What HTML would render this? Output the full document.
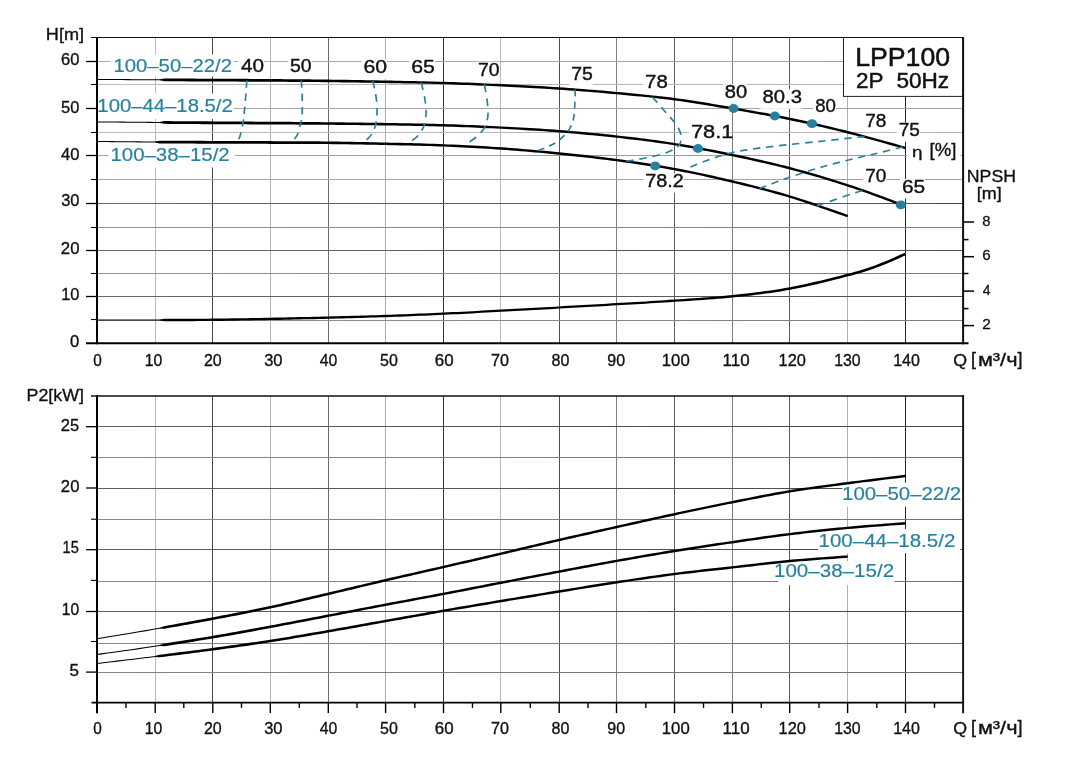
<!DOCTYPE html>
<html lang="ru">
<head>
<meta charset="utf-8">
<title>LPP100 2P 50Hz</title>
<style>
html,body{margin:0;padding:0;background:#fff;}
body{width:1072px;height:767px;overflow:hidden;}
svg{display:block;}
text{font-family:"Liberation Sans",sans-serif;white-space:pre;stroke-linejoin:round;}
</style>
</head>
<body>
<svg width="1072" height="767" viewBox="0 0 1072 767">
<rect width="1072" height="767" fill="#ffffff"/>

<g id="top-grid" fill="none">
<line x1="155.50" y1="37.5" x2="155.50" y2="343.2" stroke="#bababa" stroke-width="1.0"/>
<line x1="212.50" y1="37.5" x2="212.50" y2="343.2" stroke="#464646" stroke-width="1.0"/>
<line x1="270.50" y1="37.5" x2="270.50" y2="343.2" stroke="#b4b4b4" stroke-width="1.0"/>
<line x1="328.50" y1="37.5" x2="328.50" y2="343.2" stroke="#6c6c6c" stroke-width="1.0"/>
<line x1="385.50" y1="37.5" x2="385.50" y2="343.2" stroke="#acacac" stroke-width="1.0"/>
<line x1="443.50" y1="37.5" x2="443.50" y2="343.2" stroke="#323232" stroke-width="1.0"/>
<line x1="500.50" y1="37.5" x2="500.50" y2="343.2" stroke="#bababa" stroke-width="1.0"/>
<line x1="559.50" y1="37.5" x2="559.50" y2="343.2" stroke="#505050" stroke-width="1.0"/>
<line x1="616.50" y1="37.5" x2="616.50" y2="343.2" stroke="#808080" stroke-width="1.0"/>
<line x1="674.50" y1="37.5" x2="674.50" y2="343.2" stroke="#606060" stroke-width="1.0"/>
<line x1="732.50" y1="37.5" x2="732.50" y2="343.2" stroke="#7c7c7c" stroke-width="1.0"/>
<line x1="789.50" y1="37.5" x2="789.50" y2="343.2" stroke="#5a5a5a" stroke-width="1.0"/>
<line x1="847.50" y1="37.5" x2="847.50" y2="343.2" stroke="#b0b0b0" stroke-width="1.0"/>
<line x1="905.50" y1="37.5" x2="905.50" y2="343.2" stroke="#262626" stroke-width="1.0"/>
<linearGradient id="g0" gradientUnits="userSpaceOnUse" x1="97" y1="0" x2="963" y2="0"><stop offset="0" stop-color="#949494"/><stop offset="1" stop-color="#7c7c7c"/></linearGradient>
<line x1="97.0" y1="320.50" x2="963.0" y2="320.50" stroke="url(#g0)" stroke-width="1"/>
<linearGradient id="g1" gradientUnits="userSpaceOnUse" x1="97" y1="0" x2="963" y2="0"><stop offset="0" stop-color="#686868"/><stop offset="1" stop-color="#505050"/></linearGradient>
<line x1="97.0" y1="296.50" x2="963.0" y2="296.50" stroke="url(#g1)" stroke-width="1"/>
<line x1="97.0" y1="273.50" x2="963.0" y2="273.50" stroke="url(#g0)" stroke-width="1"/>
<line x1="97.0" y1="250.50" x2="963.0" y2="250.50" stroke="url(#g1)" stroke-width="1"/>
<line x1="97.0" y1="227.50" x2="963.0" y2="227.50" stroke="url(#g0)" stroke-width="1"/>
<line x1="97.0" y1="203.50" x2="963.0" y2="203.50" stroke="url(#g1)" stroke-width="1"/>
<linearGradient id="g2" gradientUnits="userSpaceOnUse" x1="97" y1="0" x2="963" y2="0"><stop offset="0" stop-color="#aaaaaa"/><stop offset="1" stop-color="#a2a2a2"/></linearGradient>
<line x1="97.0" y1="179.50" x2="963.0" y2="179.50" stroke="url(#g2)" stroke-width="1"/>
<linearGradient id="g3" gradientUnits="userSpaceOnUse" x1="97" y1="0" x2="963" y2="0"><stop offset="0" stop-color="#a2a2a2"/><stop offset="1" stop-color="#9a9a9a"/></linearGradient>
<line x1="97.0" y1="155.50" x2="963.0" y2="155.50" stroke="url(#g3)" stroke-width="1"/>
<linearGradient id="g4" gradientUnits="userSpaceOnUse" x1="97" y1="0" x2="963" y2="0"><stop offset="0" stop-color="#bcbcbc"/><stop offset="1" stop-color="#b4b4b4"/></linearGradient>
<line x1="97.0" y1="132.50" x2="963.0" y2="132.50" stroke="url(#g4)" stroke-width="1"/>
<line x1="97.0" y1="108.50" x2="963.0" y2="108.50" stroke="url(#g2)" stroke-width="1"/>
<line x1="97.0" y1="84.50" x2="963.0" y2="84.50" stroke="url(#g4)" stroke-width="1"/>
<line x1="97.0" y1="61.50" x2="963.0" y2="61.50" stroke="url(#g2)" stroke-width="1"/>
</g>
<rect x="110.4" y="54.5" width="123.5" height="22.1" fill="#fff"/>
<rect x="97.0" y="93.6" width="137.0" height="25.4" fill="#fff"/>
<rect x="108.5" y="143.0" width="126.5" height="24.5" fill="#fff"/>
<rect x="238.6" y="58.3" width="25.4" height="19.4" fill="#fff"/>
<rect x="287.8" y="58.5" width="23.8" height="19.4" fill="#fff"/>
<rect x="361.6" y="59.3" width="25.4" height="19.4" fill="#fff"/>
<rect x="409.2" y="58.9" width="25.5" height="19.4" fill="#fff"/>
<rect x="476.0" y="61.6" width="23.6" height="19.4" fill="#fff"/>
<rect x="569.2" y="66.1" width="23.6" height="19.4" fill="#fff"/>
<rect x="643.1" y="73.7" width="24.7" height="19.4" fill="#fff"/>
<rect x="722.7" y="84.1" width="24.4" height="19.4" fill="#fff"/>
<rect x="760.4" y="89.4" width="41.4" height="19.4" fill="#fff"/>
<rect x="813.1" y="97.9" width="22.9" height="19.4" fill="#fff"/>
<rect x="863.1" y="112.7" width="23.2" height="19.4" fill="#fff"/>
<rect x="896.7" y="122.4" width="23.2" height="19.4" fill="#fff"/>
<rect x="863.1" y="168.4" width="23.2" height="19.4" fill="#fff"/>
<rect x="900.0" y="179.1" width="25.1" height="19.4" fill="#fff"/>
<rect x="689.1" y="123.7" width="40.4" height="19.4" fill="#fff"/>
<rect x="643.3" y="173.3" width="40.3" height="19.4" fill="#fff"/>
<rect x="907.4" y="141.9" width="53.2" height="19.4" fill="#fff"/>
<g id="top-curves">
<path d="M97.00,79.92 L99.79,79.94 L103.28,79.97 L107.37,80.00 L111.97,80.03 L116.96,80.07 L122.26,80.11 L127.76,80.15 L133.36,80.18 L138.96,80.22 L144.45,80.26 L149.75,80.29 L154.75,80.32 L159.56,80.35 L164.37,81.26 L169.18,81.28 L173.99,81.31 L178.81,81.33 L183.62,81.36 L188.43,81.38 L193.24,81.40 L198.06,81.43 L202.87,81.45 L207.68,81.48 L212.49,81.50 L217.31,81.52 L222.12,81.55 L226.93,81.57 L231.74,81.59 L236.56,81.61 L241.37,81.64 L246.18,81.66 L250.99,81.68 L255.80,81.71 L260.62,81.73 L265.43,81.75 L270.24,81.78 L275.05,81.81 L279.87,81.84 L284.68,81.87 L289.49,81.90 L294.30,81.93 L299.11,81.96 L303.93,82.00 L308.74,82.04 L313.55,82.08 L318.36,82.12 L323.17,82.17 L327.98,82.22 L332.80,82.28 L337.61,82.34 L342.42,82.40 L347.23,82.46 L352.04,82.53 L356.85,82.60 L361.67,82.67 L366.48,82.75 L371.29,82.83 L376.10,82.91 L380.91,82.99 L385.73,83.07 L390.54,83.15 L395.35,83.23 L400.17,83.31 L404.98,83.39 L409.79,83.47 L414.60,83.55 L419.41,83.64 L424.22,83.74 L429.03,83.84 L433.84,83.96 L438.65,84.09 L443.46,84.22 L448.27,84.37 L453.08,84.53 L457.89,84.70 L462.70,84.88 L467.52,85.06 L472.33,85.25 L477.14,85.45 L481.95,85.65 L486.76,85.86 L491.57,86.08 L496.38,86.30 L501.19,86.52 L506.00,86.75 L510.81,86.99 L515.63,87.23 L520.44,87.47 L525.25,87.72 L530.06,87.98 L534.87,88.24 L539.68,88.52 L544.49,88.80 L549.30,89.10 L554.11,89.40 L558.92,89.72 L563.73,90.05 L568.54,90.39 L573.35,90.74 L578.16,91.10 L582.97,91.46 L587.78,91.84 L592.59,92.23 L597.40,92.62 L602.21,93.03 L607.02,93.45 L611.83,93.88 L616.64,94.32 L621.45,94.77 L626.26,95.21 L631.07,95.67 L635.88,96.13 L640.69,96.60 L645.50,97.08 L650.31,97.58 L655.12,98.10 L659.92,98.64 L664.73,99.20 L669.53,99.79 L674.34,100.41 L679.14,101.07 L683.95,101.75 L688.76,102.46 L693.56,103.20 L698.37,103.95 L703.18,104.73 L707.99,105.52 L712.80,106.32 L717.61,107.14 L722.42,107.96 L727.23,108.78 L732.04,109.61 L736.85,110.43 L741.67,111.26 L746.48,112.10 L751.29,112.94 L756.10,113.79 L760.91,114.66 L765.72,115.53 L770.52,116.43 L775.33,117.34 L780.14,118.27 L784.95,119.22 L789.75,120.20 L794.56,121.20 L799.37,122.22 L804.18,123.26 L809.00,124.31 L813.81,125.38 L818.62,126.48 L823.43,127.58 L828.24,128.71 L833.05,129.85 L837.85,131.02 L842.65,132.19 L847.45,133.39 L852.42,134.66 L857.69,136.04 L863.16,137.50 L868.73,139.01 L874.29,140.54 L879.76,142.06 L885.02,143.52 L889.99,144.92 L894.55,146.20 L898.62,147.34 L902.10,148.31 L904.87,149.08 L905.53,146.72 L902.75,145.95 L899.28,144.98 L895.22,143.84 L890.65,142.56 L885.68,141.17 L880.41,139.69 L874.94,138.18 L869.37,136.65 L863.80,135.13 L858.32,133.67 L853.04,132.28 L848.05,131.01 L843.24,129.81 L838.43,128.64 L833.62,127.47 L828.80,126.33 L823.99,125.20 L819.17,124.09 L814.35,122.99 L809.53,121.92 L804.70,120.86 L799.88,119.82 L795.07,118.80 L790.25,117.80 L785.43,116.82 L780.61,115.86 L775.79,114.93 L770.98,114.02 L766.16,113.12 L761.34,112.24 L756.53,111.38 L751.71,110.53 L746.90,109.68 L742.08,108.85 L737.27,108.02 L732.46,107.19 L727.64,106.37 L722.83,105.54 L718.02,104.72 L713.20,103.91 L708.39,103.10 L703.57,102.31 L698.76,101.53 L693.94,100.77 L689.12,100.04 L684.30,99.33 L679.48,98.64 L674.66,97.99 L669.84,97.36 L665.02,96.77 L660.20,96.20 L655.38,95.66 L650.57,95.14 L645.75,94.64 L640.93,94.16 L636.12,93.69 L631.30,93.23 L626.49,92.77 L621.68,92.33 L616.86,91.88 L612.05,91.44 L607.23,91.01 L602.42,90.59 L597.60,90.18 L592.79,89.79 L587.97,89.40 L583.16,89.02 L578.34,88.65 L573.53,88.29 L568.71,87.95 L563.90,87.61 L559.08,87.28 L554.27,86.96 L549.45,86.65 L544.64,86.36 L539.82,86.07 L535.01,85.80 L530.19,85.53 L525.38,85.28 L520.56,85.02 L515.75,84.78 L510.94,84.54 L506.12,84.31 L501.31,84.08 L496.49,83.85 L491.68,83.63 L486.87,83.41 L482.05,83.20 L477.24,83.00 L472.42,82.80 L467.61,82.61 L462.80,82.43 L457.98,82.25 L453.17,82.08 L448.35,81.93 L443.54,81.78 L438.72,81.64 L433.91,81.51 L429.09,81.39 L424.28,81.28 L419.46,81.17 L414.65,81.07 L409.84,80.98 L405.02,80.89 L400.21,80.80 L395.40,80.71 L390.58,80.62 L385.77,80.53 L380.96,80.44 L376.15,80.35 L371.33,80.26 L366.52,80.18 L361.71,80.09 L356.90,80.01 L352.08,79.93 L347.27,79.85 L342.46,79.78 L337.64,79.71 L332.83,79.64 L328.02,79.58 L323.20,79.51 L318.39,79.46 L313.58,79.40 L308.76,79.35 L303.95,79.31 L299.14,79.26 L294.32,79.22 L289.51,79.18 L284.70,79.14 L279.88,79.10 L275.07,79.06 L270.26,79.02 L265.45,78.98 L260.63,78.95 L255.82,78.92 L251.01,78.89 L246.19,78.86 L241.38,78.84 L236.57,78.81 L231.76,78.79 L226.94,78.77 L222.13,78.75 L217.32,78.72 L212.51,78.70 L207.69,78.68 L202.88,78.65 L198.07,78.63 L193.26,78.60 L188.44,78.58 L183.63,78.56 L178.82,78.53 L174.01,78.51 L169.20,78.48 L164.38,78.46 L159.57,79.30 L154.75,79.28 L149.76,79.24 L144.46,79.21 L138.96,79.17 L133.36,79.13 L127.77,79.10 L122.27,79.06 L116.97,79.02 L111.98,78.98 L107.38,78.95 L103.29,78.92 L99.79,78.89 L97.00,78.88Z" fill="#000" stroke="none"/>
<path d="M97.00,122.42 L99.79,122.45 L103.28,122.48 L107.37,122.52 L111.97,122.56 L116.96,122.60 L122.26,122.65 L127.76,122.70 L133.36,122.75 L138.95,122.80 L144.45,122.84 L149.75,122.89 L154.75,122.92 L159.56,122.96 L164.36,123.87 L169.18,123.91 L173.99,123.94 L178.80,123.98 L183.62,124.01 L188.43,124.05 L193.24,124.08 L198.05,124.11 L202.87,124.14 L207.68,124.17 L212.49,124.20 L217.30,124.23 L222.12,124.25 L226.93,124.28 L231.74,124.30 L236.56,124.33 L241.37,124.35 L246.18,124.37 L250.99,124.40 L255.81,124.41 L260.62,124.44 L265.43,124.46 L270.24,124.48 L275.05,124.50 L279.87,124.53 L284.68,124.55 L289.49,124.58 L294.30,124.60 L299.12,124.63 L303.93,124.65 L308.74,124.68 L313.55,124.71 L318.36,124.75 L323.18,124.78 L327.99,124.82 L332.80,124.87 L337.61,124.91 L342.42,124.95 L347.24,125.00 L352.05,125.05 L356.86,125.10 L361.67,125.16 L366.48,125.21 L371.30,125.27 L376.11,125.33 L380.92,125.40 L385.73,125.47 L390.54,125.54 L395.36,125.60 L400.17,125.67 L404.98,125.74 L409.79,125.81 L414.60,125.89 L419.41,125.97 L424.23,126.06 L429.04,126.16 L433.85,126.27 L438.65,126.39 L443.46,126.52 L448.27,126.67 L453.08,126.82 L457.90,126.98 L462.71,127.15 L467.52,127.33 L472.33,127.52 L477.14,127.71 L481.95,127.92 L486.76,128.13 L491.57,128.35 L496.38,128.58 L501.19,128.82 L506.00,129.07 L510.81,129.33 L515.62,129.59 L520.43,129.86 L525.24,130.14 L530.05,130.43 L534.86,130.73 L539.67,131.04 L544.48,131.37 L549.29,131.70 L554.10,132.05 L558.91,132.42 L563.71,132.80 L568.52,133.19 L573.33,133.59 L578.14,134.01 L582.95,134.44 L587.76,134.88 L592.57,135.33 L597.38,135.80 L602.19,136.28 L607.00,136.78 L611.81,137.29 L616.61,137.82 L621.42,138.36 L626.24,138.91 L631.04,139.46 L635.85,140.03 L640.66,140.62 L645.47,141.22 L650.28,141.84 L655.08,142.48 L659.89,143.15 L664.70,143.84 L669.50,144.56 L674.31,145.31 L679.11,146.09 L683.92,146.90 L688.72,147.74 L693.53,148.60 L698.34,149.48 L703.15,150.39 L707.95,151.32 L712.76,152.26 L717.57,153.23 L722.38,154.21 L727.19,155.20 L732.00,156.20 L736.81,157.21 L741.62,158.23 L746.43,159.27 L751.24,160.31 L756.05,161.38 L760.85,162.46 L765.66,163.57 L770.47,164.70 L775.27,165.85 L780.08,167.03 L784.88,168.24 L789.69,169.48 L794.51,170.76 L799.36,172.08 L804.22,173.42 L809.09,174.79 L813.96,176.19 L818.82,177.61 L823.67,179.05 L828.49,180.51 L833.28,181.99 L838.03,183.47 L842.73,184.96 L847.37,186.46 L852.11,188.04 L857.08,189.74 L862.18,191.53 L867.33,193.37 L872.45,195.23 L877.46,197.06 L882.27,198.84 L886.79,200.52 L890.95,202.07 L894.66,203.45 L897.83,204.62 L900.38,205.55 L901.22,203.25 L898.67,202.32 L895.51,201.15 L891.81,199.77 L887.65,198.22 L883.12,196.54 L878.31,194.76 L873.29,192.93 L868.16,191.07 L863.00,189.22 L857.88,187.43 L852.90,185.72 L848.13,184.14 L843.48,182.63 L838.77,181.13 L834.01,179.65 L829.21,178.17 L824.37,176.71 L819.52,175.26 L814.64,173.84 L809.76,172.44 L804.88,171.06 L800.00,169.71 L795.14,168.40 L790.31,167.12 L785.49,165.87 L780.67,164.65 L775.85,163.47 L771.03,162.31 L766.21,161.18 L761.40,160.07 L756.58,158.99 L751.76,157.92 L746.95,156.87 L742.13,155.84 L737.32,154.81 L732.50,153.80 L727.69,152.80 L722.87,151.80 L718.05,150.83 L713.24,149.86 L708.42,148.91 L703.60,147.98 L698.79,147.07 L693.97,146.19 L689.15,145.32 L684.33,144.48 L679.51,143.67 L674.69,142.89 L669.87,142.14 L665.05,141.42 L660.23,140.72 L655.42,140.06 L650.60,139.41 L645.78,138.79 L640.96,138.19 L636.15,137.60 L631.33,137.03 L626.51,136.47 L621.70,135.92 L616.89,135.38 L612.07,134.85 L607.25,134.34 L602.44,133.84 L597.62,133.36 L592.80,132.89 L587.99,132.44 L583.17,132.00 L578.36,131.57 L573.54,131.15 L568.73,130.75 L563.91,130.36 L559.09,129.98 L554.28,129.61 L549.46,129.26 L544.65,128.92 L539.83,128.60 L535.02,128.28 L530.20,127.98 L525.38,127.69 L520.57,127.41 L515.76,127.14 L510.94,126.88 L506.13,126.63 L501.31,126.38 L496.50,126.14 L491.68,125.90 L486.87,125.68 L482.05,125.47 L477.24,125.26 L472.42,125.07 L467.61,124.88 L462.79,124.71 L457.98,124.54 L453.17,124.37 L448.35,124.22 L443.54,124.08 L438.72,123.94 L433.90,123.82 L429.09,123.71 L424.27,123.60 L419.46,123.50 L414.65,123.41 L409.83,123.32 L405.02,123.24 L400.21,123.16 L395.39,123.09 L390.58,123.01 L385.77,122.93 L380.96,122.85 L376.14,122.78 L371.33,122.71 L366.52,122.64 L361.70,122.57 L356.89,122.51 L352.08,122.45 L347.26,122.39 L342.45,122.33 L337.64,122.28 L332.83,122.23 L328.01,122.18 L323.20,122.13 L318.39,122.08 L313.57,122.04 L308.76,122.00 L303.95,121.96 L299.13,121.92 L294.32,121.89 L289.51,121.85 L284.70,121.82 L279.88,121.79 L275.07,121.75 L270.26,121.72 L265.45,121.69 L260.63,121.66 L255.82,121.63 L251.01,121.60 L246.19,121.57 L241.38,121.55 L236.57,121.53 L231.76,121.50 L226.94,121.48 L222.13,121.45 L217.32,121.43 L212.51,121.40 L207.70,121.37 L202.88,121.34 L198.07,121.31 L193.26,121.28 L188.45,121.25 L183.63,121.21 L178.82,121.18 L174.01,121.14 L169.20,121.11 L164.39,121.07 L159.57,121.91 L154.75,121.88 L149.76,121.84 L144.46,121.79 L138.96,121.75 L133.37,121.70 L127.77,121.65 L122.27,121.60 L116.97,121.55 L111.98,121.51 L107.38,121.47 L103.29,121.43 L99.80,121.40 L97.00,121.38Z" fill="#000" stroke="none"/>
<path d="M97.00,142.02 L99.79,142.05 L103.28,142.08 L107.37,142.12 L111.97,142.16 L116.96,142.21 L122.26,142.26 L127.76,142.31 L133.36,142.35 L138.95,142.40 L144.45,142.45 L149.75,142.49 L154.75,142.52 L159.55,143.43 L164.37,143.46 L169.18,143.49 L173.99,143.52 L178.81,143.54 L183.62,143.57 L188.43,143.59 L193.24,143.61 L198.06,143.64 L202.87,143.66 L207.68,143.68 L212.49,143.70 L217.31,143.72 L222.12,143.74 L226.93,143.75 L231.75,143.77 L236.56,143.79 L241.37,143.80 L246.18,143.81 L251.00,143.83 L255.81,143.84 L260.62,143.85 L265.43,143.87 L270.24,143.88 L275.06,143.89 L279.87,143.91 L284.68,143.92 L289.50,143.93 L294.31,143.94 L299.12,143.95 L303.93,143.97 L308.74,143.99 L313.55,144.01 L318.36,144.04 L323.17,144.08 L327.99,144.12 L332.80,144.18 L337.61,144.23 L342.42,144.30 L347.23,144.36 L352.04,144.44 L356.85,144.51 L361.66,144.60 L366.48,144.68 L371.29,144.77 L376.10,144.87 L380.91,144.97 L385.72,145.07 L390.53,145.17 L395.35,145.27 L400.16,145.38 L404.97,145.48 L409.78,145.59 L414.59,145.71 L419.40,145.83 L424.21,145.96 L429.02,146.11 L433.83,146.26 L438.64,146.44 L443.45,146.62 L448.26,146.82 L453.07,147.03 L457.88,147.25 L462.69,147.48 L467.50,147.71 L472.31,147.96 L477.12,148.22 L481.93,148.49 L486.74,148.78 L491.55,149.08 L496.36,149.39 L501.16,149.72 L505.97,150.07 L510.78,150.43 L515.59,150.80 L520.40,151.19 L525.21,151.59 L530.02,152.00 L534.83,152.43 L539.64,152.86 L544.45,153.31 L549.26,153.77 L554.07,154.24 L558.88,154.72 L563.69,155.21 L568.50,155.70 L573.31,156.20 L578.12,156.71 L582.93,157.23 L587.74,157.77 L592.55,158.32 L597.36,158.88 L602.16,159.46 L606.97,160.06 L611.78,160.68 L616.59,161.31 L621.40,161.97 L626.21,162.63 L631.01,163.31 L635.82,164.01 L640.63,164.72 L645.44,165.45 L650.25,166.20 L655.05,166.97 L659.86,167.76 L664.67,168.58 L669.47,169.43 L674.28,170.30 L679.08,171.21 L683.89,172.14 L688.70,173.10 L693.50,174.08 L698.31,175.09 L703.12,176.12 L707.92,177.17 L712.73,178.24 L717.54,179.32 L722.35,180.43 L727.16,181.55 L731.97,182.69 L736.78,183.84 L741.59,185.00 L746.40,186.17 L751.20,187.36 L756.01,188.57 L760.82,189.79 L765.63,191.04 L770.43,192.32 L775.24,193.63 L780.04,194.98 L784.85,196.36 L789.65,197.77 L794.63,199.30 L799.92,200.99 L805.41,202.79 L811.00,204.66 L816.59,206.56 L822.08,208.45 L827.38,210.29 L832.37,212.04 L836.97,213.65 L841.06,215.08 L844.56,216.30 L847.35,217.26 L848.15,214.94 L845.36,213.99 L841.87,212.77 L837.78,211.34 L833.18,209.73 L828.18,207.98 L822.88,206.14 L817.38,204.24 L811.78,202.34 L806.18,200.46 L800.67,198.66 L795.36,196.96 L790.35,195.43 L785.53,194.00 L780.71,192.62 L775.89,191.27 L771.07,189.96 L766.25,188.68 L761.43,187.42 L756.61,186.19 L751.80,184.98 L746.98,183.79 L742.16,182.62 L737.35,181.46 L732.53,180.31 L727.72,179.17 L722.90,178.04 L718.09,176.94 L713.27,175.85 L708.45,174.77 L703.63,173.72 L698.82,172.69 L694.00,171.68 L689.18,170.70 L684.36,169.74 L679.54,168.80 L674.72,167.90 L669.90,167.02 L665.08,166.17 L660.27,165.35 L655.45,164.55 L650.63,163.78 L645.81,163.03 L640.99,162.30 L636.18,161.58 L631.36,160.89 L626.54,160.21 L621.73,159.54 L616.91,158.89 L612.10,158.25 L607.28,157.63 L602.46,157.03 L597.64,156.45 L592.83,155.88 L588.01,155.33 L583.20,154.80 L578.38,154.27 L573.57,153.76 L568.75,153.26 L563.94,152.77 L559.12,152.28 L554.31,151.80 L549.49,151.33 L544.68,150.87 L539.86,150.42 L535.05,149.99 L530.23,149.56 L525.42,149.15 L520.60,148.75 L515.78,148.36 L510.97,147.98 L506.15,147.62 L501.34,147.28 L496.52,146.95 L491.70,146.63 L486.89,146.33 L482.07,146.05 L477.26,145.77 L472.44,145.51 L467.62,145.27 L462.81,145.03 L457.99,144.80 L453.18,144.58 L448.36,144.38 L443.55,144.18 L438.73,143.99 L433.92,143.82 L429.10,143.66 L424.29,143.50 L419.47,143.36 L414.66,143.23 L409.84,143.10 L405.03,142.98 L400.22,142.87 L395.40,142.76 L390.59,142.64 L385.78,142.53 L380.97,142.42 L376.15,142.31 L371.34,142.21 L366.52,142.11 L361.71,142.01 L356.90,141.92 L352.08,141.84 L347.27,141.75 L342.46,141.68 L337.64,141.60 L332.83,141.54 L328.01,141.48 L323.20,141.42 L318.39,141.37 L313.57,141.34 L308.76,141.30 L303.94,141.27 L299.13,141.25 L294.32,141.23 L289.50,141.21 L284.69,141.19 L279.88,141.17 L275.07,141.14 L270.26,141.12 L265.44,141.10 L260.63,141.07 L255.82,141.05 L251.00,141.03 L246.19,141.01 L241.38,141.00 L236.57,140.99 L231.75,140.97 L226.94,140.95 L222.13,140.94 L217.32,140.92 L212.51,140.90 L207.69,140.88 L202.88,140.86 L198.07,140.84 L193.26,140.81 L188.44,140.79 L183.63,140.77 L178.82,140.74 L174.01,140.72 L169.20,140.69 L164.38,140.66 L159.57,140.63 L154.75,141.48 L149.76,141.44 L144.46,141.40 L138.96,141.35 L133.37,141.30 L127.77,141.26 L122.27,141.21 L116.97,141.16 L111.98,141.11 L107.38,141.07 L103.29,141.03 L99.80,141.00 L97.00,140.98Z" fill="#000" stroke="none"/>
<path d="M97.00,320.42 L99.79,320.43 L103.28,320.44 L107.38,320.45 L111.97,320.46 L116.97,320.47 L122.26,320.49 L127.76,320.50 L133.36,320.51 L138.96,320.52 L144.46,320.52 L149.75,320.53 L154.75,320.52 L159.56,320.52 L164.38,321.19 L169.19,321.19 L174.00,321.18 L178.81,321.17 L183.63,321.16 L188.44,321.15 L193.26,321.13 L198.07,321.11 L202.88,321.08 L207.70,321.04 L212.51,321.00 L217.33,320.95 L222.14,320.90 L226.95,320.83 L231.77,320.77 L236.58,320.69 L241.39,320.62 L246.21,320.54 L251.02,320.45 L255.83,320.37 L260.65,320.28 L265.46,320.18 L270.27,320.09 L275.09,320.00 L279.90,319.90 L284.71,319.80 L289.53,319.69 L294.34,319.58 L299.15,319.47 L303.96,319.36 L308.78,319.25 L313.59,319.13 L318.40,319.01 L323.22,318.89 L328.03,318.77 L332.84,318.64 L337.65,318.52 L342.47,318.40 L347.28,318.27 L352.09,318.15 L356.91,318.02 L361.72,317.88 L366.53,317.75 L371.35,317.61 L376.16,317.46 L380.97,317.30 L385.79,317.14 L390.60,316.98 L395.42,316.80 L400.23,316.63 L405.04,316.45 L409.86,316.26 L414.67,316.07 L419.48,315.87 L424.30,315.67 L429.11,315.46 L433.92,315.26 L438.74,315.04 L443.55,314.82 L448.37,314.60 L453.18,314.37 L457.99,314.13 L462.81,313.88 L467.62,313.63 L472.43,313.38 L477.25,313.12 L482.06,312.86 L486.87,312.60 L491.69,312.34 L496.50,312.08 L501.31,311.82 L506.12,311.56 L510.94,311.30 L515.75,311.04 L520.56,310.78 L525.37,310.51 L530.19,310.24 L535.00,309.97 L539.81,309.70 L544.63,309.43 L549.44,309.16 L554.25,308.89 L559.06,308.62 L563.88,308.35 L568.69,308.08 L573.50,307.81 L578.31,307.54 L583.13,307.27 L587.94,306.99 L592.75,306.72 L597.56,306.44 L602.38,306.16 L607.19,305.89 L612.00,305.61 L616.82,305.32 L621.63,305.04 L626.44,304.76 L631.25,304.48 L636.07,304.20 L640.88,303.93 L645.69,303.65 L650.51,303.37 L655.32,303.08 L660.13,302.79 L664.95,302.48 L669.76,302.18 L674.58,301.86 L679.39,301.54 L684.20,301.22 L689.01,300.91 L693.83,300.60 L698.64,300.28 L703.46,299.95 L708.28,299.61 L713.09,299.24 L717.91,298.86 L722.73,298.44 L727.56,297.99 L732.38,297.51 L737.19,297.00 L742.01,296.48 L746.83,295.94 L751.65,295.38 L756.47,294.80 L761.29,294.19 L766.11,293.55 L770.93,292.88 L775.75,292.17 L780.58,291.41 L785.40,290.60 L790.23,289.75 L795.14,288.82 L800.20,287.80 L805.35,286.71 L810.54,285.57 L815.73,284.38 L820.87,283.18 L825.92,281.96 L830.82,280.75 L835.54,279.57 L840.01,278.44 L844.21,277.36 L848.08,276.36 L851.60,275.43 L854.81,274.56 L857.76,273.73 L860.48,272.94 L863.00,272.17 L865.39,271.43 L867.66,270.68 L869.87,269.94 L872.05,269.18 L874.25,268.40 L876.50,267.58 L878.85,266.72 L881.34,265.78 L883.92,264.75 L886.56,263.67 L889.21,262.55 L891.84,261.41 L894.39,260.29 L896.84,259.20 L899.14,258.17 L901.25,257.22 L903.12,256.37 L904.73,255.66 L906.02,255.09 L904.98,252.71 L903.68,253.28 L902.06,254.00 L900.18,254.85 L898.07,255.80 L895.78,256.83 L893.34,257.91 L890.80,259.03 L888.19,260.16 L885.56,261.27 L882.95,262.34 L880.40,263.35 L877.95,264.28 L875.61,265.14 L873.37,265.95 L871.19,266.73 L869.03,267.48 L866.84,268.22 L864.59,268.95 L862.24,269.69 L859.74,270.45 L857.04,271.23 L854.12,272.05 L850.93,272.92 L847.42,273.84 L843.56,274.84 L839.37,275.92 L834.90,277.05 L830.19,278.23 L825.30,279.43 L820.27,280.65 L815.14,281.86 L809.97,283.05 L804.80,284.20 L799.68,285.29 L794.65,286.32 L789.77,287.25 L784.97,288.11 L780.17,288.92 L775.37,289.68 L770.57,290.40 L765.77,291.08 L760.96,291.73 L756.16,292.35 L751.35,292.93 L746.55,293.50 L741.74,294.04 L736.93,294.57 L732.12,295.09 L727.32,295.58 L722.52,296.04 L717.71,296.46 L712.91,296.86 L708.10,297.23 L703.29,297.59 L698.48,297.92 L693.67,298.25 L688.86,298.57 L684.05,298.89 L679.24,299.22 L674.42,299.54 L669.61,299.87 L664.80,300.19 L659.99,300.50 L655.18,300.80 L650.37,301.10 L645.56,301.39 L640.75,301.68 L635.93,301.96 L631.12,302.24 L626.31,302.52 L621.50,302.80 L616.68,303.08 L611.87,303.36 L607.06,303.64 L602.25,303.92 L597.44,304.20 L592.62,304.47 L587.81,304.75 L583.00,305.02 L578.19,305.29 L573.37,305.56 L568.56,305.83 L563.75,306.11 L558.94,306.38 L554.12,306.65 L549.31,306.92 L544.50,307.19 L539.69,307.46 L534.87,307.73 L530.06,308.00 L525.25,308.26 L520.44,308.53 L515.63,308.79 L510.81,309.06 L506.00,309.32 L501.19,309.58 L496.38,309.84 L491.56,310.10 L486.75,310.36 L481.94,310.62 L477.13,310.88 L472.32,311.13 L467.50,311.39 L462.69,311.64 L457.88,311.88 L453.07,312.12 L448.26,312.35 L443.45,312.58 L438.64,312.79 L433.83,313.01 L429.01,313.22 L424.20,313.42 L419.39,313.61 L414.58,313.81 L409.77,313.99 L404.96,314.18 L400.15,314.35 L395.33,314.53 L390.52,314.69 L385.71,314.86 L380.90,315.01 L376.09,315.16 L371.28,315.31 L366.47,315.45 L361.66,315.58 L356.84,315.71 L352.03,315.83 L347.22,315.96 L342.41,316.08 L337.60,316.20 L332.78,316.31 L327.97,316.43 L323.16,316.55 L318.35,316.67 L313.53,316.78 L308.72,316.90 L303.91,317.01 L299.10,317.11 L294.29,317.22 L289.47,317.32 L284.66,317.42 L279.85,317.52 L275.04,317.62 L270.23,317.71 L265.42,317.80 L260.60,317.89 L255.79,317.97 L250.98,318.06 L246.17,318.14 L241.36,318.22 L236.54,318.30 L231.73,318.37 L226.92,318.43 L222.11,318.50 L217.30,318.55 L212.49,318.60 L207.68,318.64 L202.87,318.68 L198.06,318.71 L193.24,318.73 L188.43,318.75 L183.62,318.76 L178.81,318.77 L174.00,318.78 L169.19,318.79 L164.37,318.79 L159.56,319.47 L154.75,319.48 L149.75,319.48 L144.46,319.47 L138.96,319.47 L133.36,319.46 L127.76,319.45 L122.27,319.44 L116.97,319.42 L111.97,319.41 L107.38,319.40 L103.28,319.39 L99.79,319.38 L97.00,319.38Z" fill="#000" stroke="none"/>
</g>
<g id="efficiency" fill="none" stroke="#27809d" stroke-width="1.65">
<path d="M246.80,80.50 C246.60,83.33 246.02,92.25 245.60,97.50 C245.18,102.75 244.73,107.75 244.30,112.00 C243.87,116.25 243.67,119.17 243.00,123.00 C242.33,126.83 241.00,132.30 240.30,135.00 C239.60,137.70 239.05,138.50 238.80,139.20" stroke-dasharray="7.32 5.71"/>
<path d="M301.20,80.60 C301.33,82.17 301.83,85.27 302.00,90.00 C302.17,94.73 302.28,104.05 302.20,109.00 C302.12,113.95 301.87,116.92 301.50,119.70 C301.13,122.48 300.65,123.28 300.00,125.70 C299.35,128.12 298.52,131.98 297.60,134.20 C296.68,136.42 295.02,138.20 294.50,139.00" stroke-dasharray="7.38 5.76"/>
<path d="M372.70,80.90 C373.15,82.88 374.70,88.82 375.40,92.80 C376.10,96.78 376.65,101.07 376.90,104.80 C377.15,108.53 377.08,111.97 376.90,115.20 C376.72,118.43 376.55,121.22 375.80,124.20 C375.05,127.18 373.92,130.48 372.40,133.10 C370.88,135.72 367.65,138.77 366.70,139.90" stroke-dasharray="7.66 5.98"/>
<path d="M421.20,82.40 C421.77,84.88 423.78,92.58 424.60,97.30 C425.42,102.02 425.97,106.97 426.10,110.70 C426.23,114.43 425.85,116.95 425.40,119.70 C424.95,122.45 424.60,124.58 423.40,127.20 C422.20,129.82 420.07,133.17 418.20,135.40 C416.33,137.63 413.20,139.73 412.20,140.60" stroke-dasharray="7.79 6.08"/>
<path d="M484.30,84.20 C484.73,86.63 486.27,94.13 486.90,98.80 C487.53,103.47 488.10,108.47 488.10,112.20 C488.10,115.93 487.60,118.45 486.90,121.20 C486.20,123.95 485.52,126.22 483.90,128.70 C482.28,131.18 479.57,133.92 477.20,136.10 C474.83,138.28 470.95,140.85 469.70,141.80" stroke-dasharray="8.00 6.24"/>
<path d="M575.20,89.60 C575.13,92.13 575.12,99.78 574.80,104.80 C574.48,109.82 574.30,115.48 573.30,119.70 C572.30,123.92 570.42,127.37 568.80,130.10 C567.18,132.83 565.83,133.98 563.60,136.10 C561.37,138.22 558.27,140.93 555.40,142.80 C552.53,144.67 549.30,146.00 546.40,147.30 C543.50,148.60 539.40,150.05 538.00,150.60" stroke-dasharray="6.78 5.30"/>
<path d="M652.40,97.00 C654.38,99.28 660.57,106.42 664.30,110.70 C668.03,114.98 672.18,119.22 674.80,122.70 C677.42,126.18 678.97,128.87 680.00,131.60 C681.03,134.33 681.12,136.85 681.00,139.10 C680.88,141.35 680.58,143.35 679.30,145.10 C678.02,146.85 676.30,148.07 673.30,149.60 C670.30,151.13 665.78,152.93 661.30,154.30 C656.82,155.67 650.87,156.85 646.40,157.80 C641.93,158.75 637.87,159.42 634.50,160.00 C631.13,160.58 627.58,161.08 626.20,161.30" stroke-dasharray="7.52 5.87"/>
<path d="M690.40,167.00 C693.55,165.77 702.43,161.97 709.30,159.60 C716.17,157.23 723.65,154.67 731.60,152.80 C739.55,150.93 747.78,149.73 757.00,148.40 C766.22,147.07 776.40,145.97 786.90,144.80 C797.40,143.63 809.53,142.52 820.00,141.40 C830.47,140.28 842.27,138.90 849.70,138.10 C857.13,137.30 862.12,136.85 864.60,136.60" stroke-dasharray="7.36 5.74"/>
<path d="M759.40,188.50 C764.42,186.63 778.80,180.97 789.50,177.30 C800.20,173.63 812.32,169.73 823.60,166.50 C834.88,163.27 847.87,160.20 857.20,157.90 C866.53,155.60 872.02,154.52 879.60,152.70 C887.18,150.88 898.85,147.95 902.70,147.00" stroke-dasharray="7.25 5.66"/>
<path d="M816.90,206.00 C821.50,204.38 836.92,198.88 844.50,196.30 C852.08,193.72 859.42,191.47 862.40,190.50" stroke-dasharray="7.58 5.92"/>
</g>
<g id="dots" fill="#27809d">
<ellipse cx="733.6" cy="108.5" rx="5.1" ry="4.4"/>
<ellipse cx="774.9" cy="116.0" rx="5.1" ry="4.4"/>
<ellipse cx="812.0" cy="123.7" rx="5.1" ry="4.4"/>
<ellipse cx="698.0" cy="148.5" rx="5.1" ry="4.4"/>
<ellipse cx="655.2" cy="165.8" rx="5.1" ry="4.4"/>
<ellipse cx="900.8" cy="204.8" rx="5.1" ry="4.4"/>
</g>
<rect x="843.5" y="37.5" width="119.5" height="58.9" fill="#fff" stroke="#222" stroke-width="1"/>
<g id="top-axes" stroke="#000" fill="none">
<line x1="97" y1="37" x2="97" y2="344.2" stroke-width="2"/>
<line x1="86" y1="343.2" x2="968.5" y2="343.2" stroke-width="2"/>
<line x1="91" y1="37.5" x2="964" y2="37.5" stroke-width="1.2" stroke="#111"/>
<line x1="963.1" y1="37" x2="963.1" y2="344.2" stroke-width="2" stroke="#111"/>
<line x1="91.0" y1="319.5" x2="97" y2="319.5" stroke-width="1.1"/>
<line x1="86.0" y1="296.5" x2="97" y2="296.5" stroke-width="1.3"/>
<line x1="91.0" y1="273.5" x2="97" y2="273.5" stroke-width="1.1"/>
<line x1="86.0" y1="250.5" x2="97" y2="250.5" stroke-width="1.3"/>
<line x1="91.0" y1="227.5" x2="97" y2="227.5" stroke-width="1.1"/>
<line x1="86.0" y1="203.5" x2="97" y2="203.5" stroke-width="1.3"/>
<line x1="91.0" y1="179.5" x2="97" y2="179.5" stroke-width="1.1"/>
<line x1="86.0" y1="155.5" x2="97" y2="155.5" stroke-width="1.3"/>
<line x1="91.0" y1="132.5" x2="97" y2="132.5" stroke-width="1.1"/>
<line x1="86.0" y1="108.5" x2="97" y2="108.5" stroke-width="1.3"/>
<line x1="91.0" y1="84.5" x2="97" y2="84.5" stroke-width="1.1"/>
<line x1="86.0" y1="61.5" x2="97" y2="61.5" stroke-width="1.3"/>
<line x1="963" y1="222.0" x2="974.0" y2="222.0" stroke-width="1.5"/>
<line x1="963" y1="239.6" x2="968.5" y2="239.6" stroke-width="1.5"/>
<line x1="963" y1="256.7" x2="974.0" y2="256.7" stroke-width="1.5"/>
<line x1="963" y1="273.5" x2="968.5" y2="273.5" stroke-width="1.5"/>
<line x1="963" y1="291.1" x2="974.0" y2="291.1" stroke-width="1.5"/>
<line x1="963" y1="308.6" x2="968.5" y2="308.6" stroke-width="1.5"/>
<line x1="963" y1="325.6" x2="974.0" y2="325.6" stroke-width="1.5"/>
</g>
<g id="bottom-grid" fill="none">
<line x1="155.50" y1="396.0" x2="155.50" y2="702.7" stroke="#bababa" stroke-width="1.0"/>
<line x1="212.50" y1="396.0" x2="212.50" y2="702.7" stroke="#464646" stroke-width="1.0"/>
<line x1="270.50" y1="396.0" x2="270.50" y2="702.7" stroke="#b4b4b4" stroke-width="1.0"/>
<line x1="328.50" y1="396.0" x2="328.50" y2="702.7" stroke="#6c6c6c" stroke-width="1.0"/>
<line x1="385.50" y1="396.0" x2="385.50" y2="702.7" stroke="#acacac" stroke-width="1.0"/>
<line x1="443.50" y1="396.0" x2="443.50" y2="702.7" stroke="#323232" stroke-width="1.0"/>
<line x1="500.50" y1="396.0" x2="500.50" y2="702.7" stroke="#bababa" stroke-width="1.0"/>
<line x1="559.50" y1="396.0" x2="559.50" y2="702.7" stroke="#505050" stroke-width="1.0"/>
<line x1="616.50" y1="396.0" x2="616.50" y2="702.7" stroke="#808080" stroke-width="1.0"/>
<line x1="674.50" y1="396.0" x2="674.50" y2="702.7" stroke="#606060" stroke-width="1.0"/>
<line x1="732.50" y1="396.0" x2="732.50" y2="702.7" stroke="#7c7c7c" stroke-width="1.0"/>
<line x1="789.50" y1="396.0" x2="789.50" y2="702.7" stroke="#5a5a5a" stroke-width="1.0"/>
<line x1="847.50" y1="396.0" x2="847.50" y2="702.7" stroke="#b0b0b0" stroke-width="1.0"/>
<line x1="905.50" y1="396.0" x2="905.50" y2="702.7" stroke="#262626" stroke-width="1.0"/>
<linearGradient id="g5" gradientUnits="userSpaceOnUse" x1="97" y1="0" x2="963" y2="0"><stop offset="0" stop-color="#606060"/><stop offset="1" stop-color="#484848"/></linearGradient>
<line x1="97.0" y1="426.50" x2="963.0" y2="426.50" stroke="url(#g5)" stroke-width="1"/>
<linearGradient id="g6" gradientUnits="userSpaceOnUse" x1="97" y1="0" x2="963" y2="0"><stop offset="0" stop-color="#8a8a8a"/><stop offset="1" stop-color="#727272"/></linearGradient>
<line x1="97.0" y1="457.50" x2="963.0" y2="457.50" stroke="url(#g6)" stroke-width="1"/>
<line x1="97.0" y1="488.50" x2="963.0" y2="488.50" stroke="url(#g5)" stroke-width="1"/>
<line x1="97.0" y1="519.50" x2="963.0" y2="519.50" stroke="url(#g6)" stroke-width="1"/>
<line x1="97.0" y1="549.50" x2="963.0" y2="549.50" stroke="url(#g5)" stroke-width="1"/>
<line x1="97.0" y1="581.50" x2="963.0" y2="581.50" stroke="url(#g6)" stroke-width="1"/>
<line x1="97.0" y1="611.50" x2="963.0" y2="611.50" stroke="url(#g5)" stroke-width="1"/>
<line x1="97.0" y1="643.50" x2="963.0" y2="643.50" stroke="url(#g6)" stroke-width="1"/>
<linearGradient id="g7" gradientUnits="userSpaceOnUse" x1="97" y1="0" x2="963" y2="0"><stop offset="0" stop-color="#848484"/><stop offset="1" stop-color="#6c6c6c"/></linearGradient>
<line x1="97.0" y1="672.50" x2="963.0" y2="672.50" stroke="url(#g7)" stroke-width="1"/>
</g>
<rect x="842.4" y="482.6" width="119.6" height="24.2" fill="#fff"/>
<rect x="818.1" y="529.0" width="142.2" height="24.2" fill="#fff"/>
<rect x="778.0" y="561.0" width="116.5" height="24.1" fill="#fff"/>
<g id="bottom-curves">
<path d="M97.09,639.32 L99.88,638.85 L103.37,638.27 L107.46,637.59 L112.06,636.83 L117.05,636.00 L122.35,635.12 L127.85,634.20 L133.45,633.26 L139.05,632.32 L144.54,631.39 L149.84,630.48 L154.84,629.62 L159.65,628.78 L164.60,628.70 L169.41,627.85 L174.23,627.00 L179.04,626.15 L183.85,625.29 L188.67,624.42 L193.48,623.55 L198.30,622.67 L203.11,621.78 L207.93,620.88 L212.74,619.98 L217.55,619.07 L222.37,618.16 L227.18,617.24 L231.99,616.32 L236.81,615.40 L241.62,614.46 L246.44,613.52 L251.26,612.56 L256.07,611.59 L260.89,610.60 L265.70,609.59 L270.52,608.56 L275.34,607.51 L280.16,606.44 L284.97,605.35 L289.79,604.24 L294.60,603.12 L299.42,601.99 L304.23,600.85 L309.04,599.70 L313.86,598.56 L318.67,597.41 L323.48,596.27 L328.29,595.13 L333.10,594.00 L337.92,592.86 L342.73,591.71 L347.54,590.56 L352.35,589.41 L357.17,588.26 L361.98,587.11 L366.79,585.96 L371.60,584.81 L376.41,583.67 L381.22,582.54 L386.03,581.41 L390.84,580.29 L395.65,579.18 L400.46,578.08 L405.27,576.97 L410.09,575.88 L414.90,574.78 L419.71,573.69 L424.52,572.59 L429.33,571.50 L434.15,570.40 L438.96,569.30 L443.77,568.19 L448.59,567.08 L453.40,565.97 L458.21,564.86 L463.03,563.75 L467.84,562.63 L472.65,561.52 L477.46,560.40 L482.28,559.28 L487.09,558.16 L491.90,557.04 L496.72,555.92 L501.53,554.79 L506.34,553.66 L511.16,552.53 L515.97,551.39 L520.78,550.25 L525.60,549.11 L530.41,547.97 L535.22,546.83 L540.03,545.69 L544.84,544.56 L549.65,543.43 L554.46,542.31 L559.28,541.19 L564.09,540.09 L568.90,538.99 L573.71,537.90 L578.52,536.81 L583.33,535.73 L588.14,534.65 L592.95,533.57 L597.77,532.49 L602.58,531.42 L607.39,530.34 L612.20,529.27 L617.02,528.20 L621.83,527.12 L626.64,526.04 L631.46,524.96 L636.27,523.88 L641.08,522.81 L645.89,521.73 L650.70,520.66 L655.51,519.60 L660.33,518.54 L665.14,517.48 L669.95,516.44 L674.76,515.40 L679.57,514.37 L684.38,513.34 L689.19,512.32 L694.00,511.30 L698.81,510.29 L703.62,509.28 L708.44,508.28 L713.25,507.29 L718.06,506.30 L722.87,505.33 L727.68,504.36 L732.49,503.40 L737.30,502.45 L742.11,501.49 L746.93,500.53 L751.74,499.58 L756.55,498.64 L761.36,497.71 L766.17,496.79 L770.97,495.89 L775.78,495.01 L780.59,494.15 L785.39,493.31 L790.20,492.51 L795.00,491.73 L799.80,490.99 L804.61,490.27 L809.41,489.58 L814.21,488.90 L819.02,488.24 L823.82,487.59 L828.63,486.95 L833.44,486.32 L838.26,485.69 L843.08,485.05 L847.91,484.41 L852.93,483.76 L858.25,483.07 L863.78,482.36 L869.41,481.65 L875.05,480.95 L880.59,480.26 L885.92,479.60 L890.96,478.98 L895.59,478.41 L899.72,477.90 L903.24,477.47 L906.05,477.12 L905.75,474.68 L902.94,475.03 L899.42,475.47 L895.29,475.98 L890.66,476.55 L885.62,477.17 L880.28,477.83 L874.74,478.52 L869.10,479.22 L863.47,479.93 L857.94,480.64 L852.61,481.33 L847.59,481.99 L842.76,482.62 L837.94,483.26 L833.12,483.89 L828.31,484.52 L823.50,485.16 L818.68,485.81 L813.87,486.47 L809.06,487.15 L804.25,487.85 L799.44,488.57 L794.62,489.31 L789.80,490.09 L784.98,490.90 L780.16,491.74 L775.34,492.60 L770.53,493.48 L765.71,494.38 L760.89,495.30 L756.08,496.24 L751.26,497.18 L746.45,498.13 L741.64,499.09 L736.82,500.04 L732.01,501.00 L727.20,501.96 L722.38,502.93 L717.57,503.90 L712.75,504.89 L707.94,505.88 L703.13,506.88 L698.31,507.89 L693.50,508.90 L688.68,509.92 L683.87,510.94 L679.06,511.97 L674.24,513.00 L669.43,514.04 L664.61,515.09 L659.80,516.14 L654.99,517.20 L650.17,518.27 L645.36,519.34 L640.55,520.42 L635.73,521.49 L630.92,522.57 L626.11,523.65 L621.29,524.73 L616.48,525.80 L611.67,526.88 L606.86,527.95 L602.05,529.03 L597.23,530.10 L592.42,531.18 L587.61,532.25 L582.79,533.34 L577.98,534.42 L573.17,535.51 L568.35,536.60 L563.54,537.70 L558.72,538.81 L553.91,539.92 L549.10,541.04 L544.28,542.17 L539.47,543.30 L534.66,544.44 L529.84,545.58 L525.03,546.73 L520.22,547.87 L515.41,549.01 L510.59,550.15 L505.78,551.28 L500.97,552.41 L496.16,553.53 L491.35,554.65 L486.53,555.78 L481.72,556.90 L476.91,558.01 L472.10,559.13 L467.29,560.25 L462.47,561.36 L457.66,562.48 L452.85,563.59 L448.04,564.70 L443.23,565.81 L438.41,566.91 L433.60,568.01 L428.79,569.11 L423.98,570.20 L419.17,571.29 L414.35,572.38 L409.54,573.47 L404.73,574.57 L399.91,575.66 L395.10,576.77 L390.28,577.87 L385.47,578.99 L380.65,580.11 L375.84,581.24 L371.02,582.38 L366.21,583.52 L361.40,584.67 L356.58,585.82 L351.77,586.96 L346.96,588.11 L342.15,589.26 L337.33,590.40 L332.52,591.54 L327.71,592.67 L322.90,593.80 L318.08,594.94 L313.27,596.08 L308.46,597.22 L303.64,598.36 L298.83,599.50 L294.02,600.63 L289.21,601.74 L284.40,602.84 L279.59,603.93 L274.79,604.99 L269.98,606.04 L265.17,607.06 L260.36,608.06 L255.55,609.04 L250.74,610.01 L245.94,610.97 L241.13,611.91 L236.32,612.85 L231.51,613.77 L226.69,614.69 L221.88,615.60 L217.07,616.51 L212.26,617.42 L207.45,618.33 L202.64,619.22 L197.83,620.11 L193.02,620.99 L188.21,621.86 L183.40,622.73 L178.58,623.59 L173.77,624.44 L168.96,625.29 L164.15,626.14 L159.47,627.74 L154.66,628.58 L149.66,629.45 L144.37,630.35 L138.87,631.28 L133.27,632.23 L127.68,633.16 L122.18,634.08 L116.88,634.96 L111.89,635.79 L107.29,636.56 L103.20,637.23 L99.70,637.82 L96.91,638.28Z" fill="#000" stroke="none"/>
<path d="M97.07,655.02 L99.86,654.63 L103.36,654.14 L107.45,653.57 L112.04,652.93 L117.04,652.23 L122.34,651.49 L127.84,650.72 L133.43,649.92 L139.03,649.13 L144.53,648.33 L149.83,647.56 L154.83,646.82 L159.64,646.10 L164.57,646.14 L169.38,645.40 L174.20,644.67 L179.01,643.92 L183.83,643.17 L188.64,642.41 L193.46,641.65 L198.27,640.87 L203.09,640.09 L207.90,639.29 L212.72,638.48 L217.53,637.66 L222.35,636.83 L227.16,635.99 L231.98,635.13 L236.79,634.27 L241.61,633.40 L246.42,632.52 L251.23,631.64 L256.05,630.75 L260.86,629.86 L265.67,628.96 L270.49,628.07 L275.30,627.17 L280.11,626.27 L284.93,625.36 L289.74,624.44 L294.55,623.52 L299.37,622.60 L304.18,621.68 L308.99,620.75 L313.80,619.82 L318.61,618.89 L323.43,617.97 L328.24,617.04 L333.05,616.12 L337.86,615.19 L342.68,614.26 L347.49,613.33 L352.30,612.40 L357.11,611.47 L361.92,610.54 L366.74,609.61 L371.55,608.68 L376.36,607.76 L381.17,606.84 L385.98,605.92 L390.79,605.01 L395.60,604.11 L400.41,603.20 L405.23,602.31 L410.04,601.41 L414.85,600.52 L419.66,599.62 L424.47,598.73 L429.29,597.83 L434.10,596.92 L438.92,596.02 L443.73,595.10 L448.54,594.18 L453.36,593.26 L458.17,592.33 L462.98,591.40 L467.80,590.46 L472.61,589.52 L477.42,588.58 L482.23,587.64 L487.05,586.70 L491.86,585.77 L496.67,584.83 L501.48,583.90 L506.29,582.97 L511.11,582.04 L515.92,581.11 L520.73,580.18 L525.54,579.25 L530.36,578.32 L535.17,577.39 L539.98,576.47 L544.79,575.55 L549.60,574.63 L554.42,573.71 L559.23,572.80 L564.04,571.90 L568.85,570.99 L573.66,570.08 L578.48,569.18 L583.29,568.28 L588.10,567.38 L592.91,566.49 L597.72,565.60 L602.53,564.71 L607.34,563.84 L612.15,562.97 L616.97,562.11 L621.78,561.25 L626.59,560.40 L631.40,559.55 L636.21,558.71 L641.02,557.87 L645.83,557.04 L650.64,556.21 L655.45,555.40 L660.26,554.59 L665.08,553.79 L669.89,552.99 L674.70,552.21 L679.51,551.44 L684.32,550.67 L689.13,549.92 L693.94,549.17 L698.75,548.43 L703.56,547.70 L708.37,546.97 L713.18,546.25 L717.99,545.54 L722.80,544.83 L727.62,544.12 L732.43,543.41 L737.24,542.71 L742.05,542.00 L746.87,541.29 L751.68,540.59 L756.49,539.89 L761.30,539.20 L766.11,538.52 L770.92,537.85 L775.73,537.19 L780.54,536.55 L785.34,535.92 L790.15,535.32 L794.96,534.73 L799.76,534.16 L804.57,533.60 L809.37,533.05 L814.18,532.52 L818.98,532.01 L823.79,531.50 L828.59,531.00 L833.41,530.52 L838.22,530.04 L843.04,529.58 L847.86,529.12 L852.88,528.66 L858.20,528.20 L863.72,527.73 L869.36,527.27 L874.99,526.82 L880.53,526.38 L885.87,525.97 L890.90,525.58 L895.54,525.23 L899.66,524.92 L903.18,524.64 L906.00,524.42 L905.80,521.98 L902.99,522.20 L899.48,522.47 L895.35,522.79 L890.72,523.14 L885.68,523.53 L880.34,523.94 L874.80,524.38 L869.16,524.83 L863.52,525.29 L857.99,525.75 L852.66,526.22 L847.64,526.68 L842.81,527.14 L837.98,527.61 L833.16,528.08 L828.35,528.57 L823.53,529.06 L818.72,529.57 L813.91,530.09 L809.10,530.62 L804.29,531.16 L799.48,531.72 L794.66,532.30 L789.85,532.88 L785.03,533.49 L780.21,534.12 L775.40,534.76 L770.58,535.42 L765.77,536.09 L760.95,536.77 L756.14,537.47 L751.32,538.17 L746.51,538.87 L741.70,539.58 L736.88,540.28 L732.07,540.99 L727.26,541.69 L722.45,542.40 L717.63,543.11 L712.82,543.83 L708.01,544.55 L703.19,545.28 L698.38,546.01 L693.56,546.75 L688.75,547.50 L683.93,548.25 L679.12,549.02 L674.30,549.79 L669.49,550.58 L664.67,551.37 L659.86,552.17 L655.05,552.98 L650.23,553.80 L645.42,554.62 L640.60,555.46 L635.79,556.29 L630.98,557.14 L626.16,557.98 L621.35,558.84 L616.53,559.69 L611.72,560.56 L606.91,561.43 L602.09,562.30 L597.28,563.19 L592.46,564.08 L587.65,564.97 L582.84,565.87 L578.02,566.77 L573.21,567.67 L568.40,568.58 L563.59,569.49 L558.77,570.40 L553.96,571.31 L549.15,572.22 L544.33,573.14 L539.52,574.06 L534.71,574.99 L529.89,575.92 L525.08,576.84 L520.27,577.78 L515.45,578.71 L510.64,579.64 L505.83,580.57 L501.02,581.50 L496.20,582.43 L491.39,583.36 L486.58,584.30 L481.77,585.24 L476.95,586.18 L472.14,587.12 L467.33,588.05 L462.52,588.99 L457.70,589.92 L452.89,590.85 L448.08,591.78 L443.27,592.70 L438.46,593.61 L433.65,594.52 L428.84,595.42 L424.03,596.31 L419.21,597.20 L414.40,598.10 L409.59,598.99 L404.77,599.88 L399.96,600.77 L395.15,601.67 L390.33,602.57 L385.52,603.48 L380.70,604.39 L375.89,605.31 L371.08,606.23 L366.26,607.15 L361.45,608.08 L356.64,609.00 L351.82,609.93 L347.01,610.86 L342.20,611.79 L337.39,612.71 L332.57,613.63 L327.76,614.56 L322.95,615.48 L318.14,616.40 L313.32,617.32 L308.51,618.24 L303.70,619.17 L298.88,620.09 L294.07,621.01 L289.26,621.92 L284.45,622.83 L279.64,623.74 L274.83,624.64 L270.01,625.53 L265.20,626.42 L260.39,627.31 L255.58,628.20 L250.77,629.08 L245.95,629.96 L241.14,630.84 L236.33,631.71 L231.52,632.57 L226.71,633.43 L221.90,634.27 L217.09,635.10 L212.28,635.92 L207.47,636.72 L202.66,637.52 L197.85,638.30 L193.04,639.08 L188.23,639.85 L183.42,640.60 L178.61,641.35 L173.80,642.10 L168.99,642.83 L164.18,643.57 L159.48,645.06 L154.67,645.78 L149.68,646.52 L144.38,647.29 L138.88,648.09 L133.29,648.88 L127.69,649.68 L122.19,650.45 L116.90,651.19 L111.90,651.89 L107.30,652.53 L103.21,653.10 L99.72,653.59 L96.93,653.98Z" fill="#000" stroke="none"/>
<path d="M97.06,664.02 L99.85,663.69 L103.34,663.28 L107.44,662.79 L112.03,662.25 L117.03,661.66 L122.33,661.03 L127.83,660.37 L133.42,659.71 L139.02,659.04 L144.52,658.37 L149.82,657.73 L154.81,657.12 L159.72,657.30 L164.53,656.71 L169.35,656.12 L174.16,655.52 L178.97,654.93 L183.79,654.33 L188.60,653.72 L193.41,653.11 L198.23,652.49 L203.04,651.87 L207.86,651.23 L212.67,650.59 L217.49,649.94 L222.30,649.28 L227.12,648.62 L231.93,647.95 L236.74,647.27 L241.56,646.59 L246.37,645.89 L251.19,645.19 L256.00,644.48 L260.82,643.76 L265.63,643.02 L270.45,642.28 L275.26,641.52 L280.08,640.74 L284.90,639.96 L289.71,639.16 L294.52,638.35 L299.34,637.54 L304.15,636.71 L308.97,635.89 L313.78,635.05 L318.59,634.22 L323.40,633.38 L328.22,632.55 L333.03,631.71 L337.84,630.86 L342.66,630.01 L347.47,629.15 L352.28,628.28 L357.10,627.42 L361.91,626.55 L366.72,625.68 L371.53,624.81 L376.35,623.95 L381.16,623.08 L385.97,622.22 L390.78,621.37 L395.59,620.51 L400.40,619.65 L405.22,618.79 L410.03,617.94 L414.84,617.08 L419.65,616.23 L424.46,615.38 L429.27,614.53 L434.09,613.68 L438.90,612.84 L443.71,612.01 L448.52,611.18 L453.33,610.35 L458.14,609.52 L462.96,608.70 L467.77,607.88 L472.58,607.06 L477.39,606.25 L482.20,605.44 L487.02,604.63 L491.83,603.82 L496.64,603.01 L501.45,602.21 L506.26,601.41 L511.08,600.60 L515.89,599.81 L520.70,599.01 L525.51,598.21 L530.32,597.42 L535.14,596.63 L539.95,595.84 L544.76,595.06 L549.57,594.27 L554.38,593.49 L559.20,592.71 L564.01,591.93 L568.82,591.15 L573.63,590.37 L578.45,589.59 L583.26,588.81 L588.07,588.03 L592.88,587.26 L597.69,586.50 L602.50,585.74 L607.31,584.99 L612.12,584.25 L616.93,583.51 L621.75,582.78 L626.56,582.06 L631.37,581.33 L636.18,580.62 L640.99,579.90 L645.80,579.20 L650.61,578.50 L655.42,577.82 L660.23,577.15 L665.04,576.49 L669.85,575.84 L674.66,575.21 L679.46,574.61 L684.27,574.02 L689.08,573.44 L693.89,572.88 L698.70,572.34 L703.51,571.80 L708.32,571.27 L713.13,570.74 L717.95,570.21 L722.76,569.69 L727.57,569.16 L732.39,568.62 L737.20,568.07 L742.02,567.52 L746.83,566.96 L751.64,566.39 L756.45,565.83 L761.26,565.28 L766.07,564.73 L770.88,564.20 L775.69,563.67 L780.50,563.17 L785.31,562.68 L790.11,562.22 L795.10,561.77 L800.39,561.32 L805.89,560.88 L811.48,560.44 L817.08,560.02 L822.57,559.62 L827.87,559.24 L832.86,558.89 L837.46,558.57 L841.55,558.28 L845.05,558.03 L847.84,557.82 L847.66,555.38 L844.87,555.58 L841.38,555.83 L837.29,556.12 L832.69,556.44 L827.69,556.80 L822.40,557.18 L816.90,557.58 L811.30,558.00 L805.69,558.44 L800.19,558.88 L794.89,559.33 L789.89,559.78 L785.07,560.24 L780.25,560.73 L775.43,561.24 L770.62,561.76 L765.80,562.30 L760.99,562.85 L756.17,563.40 L751.36,563.96 L746.55,564.52 L741.73,565.08 L736.92,565.64 L732.11,566.18 L727.30,566.72 L722.49,567.25 L717.68,567.78 L712.87,568.30 L708.05,568.83 L703.24,569.36 L698.43,569.90 L693.61,570.45 L688.79,571.01 L683.98,571.58 L679.16,572.17 L674.34,572.79 L669.53,573.41 L664.71,574.06 L659.89,574.72 L655.08,575.39 L650.26,576.08 L645.45,576.78 L640.63,577.48 L635.82,578.19 L631.01,578.91 L626.19,579.63 L621.38,580.36 L616.57,581.09 L611.75,581.82 L606.94,582.57 L602.12,583.32 L597.31,584.08 L592.49,584.84 L587.68,585.62 L582.87,586.39 L578.05,587.17 L573.24,587.95 L568.43,588.73 L563.62,589.51 L558.80,590.29 L553.99,591.07 L549.18,591.85 L544.37,592.64 L539.55,593.42 L534.74,594.21 L529.93,595.00 L525.11,595.80 L520.30,596.59 L515.49,597.39 L510.67,598.19 L505.86,598.99 L501.05,599.79 L496.24,600.60 L491.42,601.40 L486.61,602.21 L481.80,603.02 L476.98,603.83 L472.17,604.65 L467.36,605.47 L462.54,606.29 L457.73,607.11 L452.92,607.93 L448.10,608.76 L443.29,609.59 L438.48,610.43 L433.66,611.27 L428.85,612.11 L424.04,612.96 L419.22,613.81 L414.41,614.66 L409.60,615.51 L404.78,616.36 L399.97,617.22 L395.16,618.07 L390.35,618.92 L385.53,619.78 L380.72,620.63 L375.90,621.49 L371.09,622.35 L366.28,623.22 L361.47,624.08 L356.65,624.95 L351.84,625.81 L347.03,626.67 L342.22,627.52 L337.41,628.37 L332.59,629.22 L327.78,630.05 L322.97,630.88 L318.16,631.71 L313.35,632.55 L308.53,633.37 L303.72,634.20 L298.91,635.01 L294.10,635.82 L289.29,636.63 L284.48,637.42 L279.67,638.20 L274.86,638.97 L270.05,639.72 L265.24,640.47 L260.43,641.19 L255.62,641.91 L250.81,642.62 L246.00,643.32 L241.19,644.01 L236.38,644.70 L231.57,645.37 L226.76,646.04 L221.95,646.70 L217.14,647.36 L212.33,648.01 L207.52,648.66 L202.71,649.29 L197.90,649.92 L193.09,650.53 L188.27,651.14 L183.46,651.75 L178.65,652.35 L173.84,652.94 L169.03,653.54 L164.22,654.13 L159.40,654.72 L154.69,656.08 L149.69,656.69 L144.39,657.33 L138.90,657.99 L133.30,658.66 L127.70,659.33 L122.20,659.98 L116.91,660.61 L111.91,661.20 L107.32,661.75 L103.22,662.23 L99.73,662.65 L96.94,662.98Z" fill="#000" stroke="none"/>
</g>
<g id="bottom-axes" stroke="#000" fill="none">
<line x1="97" y1="395.2" x2="97" y2="713.2" stroke-width="2"/>
<line x1="91.5" y1="702.7" x2="963.8" y2="702.7" stroke-width="1.8"/>
<line x1="91" y1="396.0" x2="964" y2="396.0" stroke-width="1.3" stroke="#111"/>
<line x1="963.1" y1="395.2" x2="963.1" y2="713.2" stroke-width="1.9" stroke="#111"/>
<line x1="86.0" y1="426.7" x2="97" y2="426.7" stroke-width="1.3"/>
<line x1="91.0" y1="457.3" x2="97" y2="457.3" stroke-width="1.1"/>
<line x1="86.0" y1="488.0" x2="97" y2="488.0" stroke-width="1.3"/>
<line x1="91.0" y1="519.2" x2="97" y2="519.2" stroke-width="1.1"/>
<line x1="86.0" y1="549.7" x2="97" y2="549.7" stroke-width="1.3"/>
<line x1="91.0" y1="580.4" x2="97" y2="580.4" stroke-width="1.1"/>
<line x1="86.0" y1="611.5" x2="97" y2="611.5" stroke-width="1.3"/>
<line x1="91.0" y1="641.5" x2="97" y2="641.5" stroke-width="1.1"/>
<line x1="86.0" y1="672.1" x2="97" y2="672.1" stroke-width="1.3"/>
<line x1="126.0" y1="702.7" x2="126.0" y2="707.9" stroke-width="1.4"/>
<line x1="155.2" y1="702.7" x2="155.2" y2="713.1" stroke-width="1.4"/>
<line x1="183.8" y1="702.7" x2="183.8" y2="707.9" stroke-width="1.4"/>
<line x1="212.8" y1="702.7" x2="212.8" y2="713.1" stroke-width="1.4"/>
<line x1="241.5" y1="702.7" x2="241.5" y2="707.9" stroke-width="1.4"/>
<line x1="270.3" y1="702.7" x2="270.3" y2="713.1" stroke-width="1.4"/>
<line x1="299.3" y1="702.7" x2="299.3" y2="707.9" stroke-width="1.4"/>
<line x1="328.3" y1="702.7" x2="328.3" y2="713.1" stroke-width="1.4"/>
<line x1="357.0" y1="702.7" x2="357.0" y2="707.9" stroke-width="1.4"/>
<line x1="385.6" y1="702.7" x2="385.6" y2="713.1" stroke-width="1.4"/>
<line x1="414.8" y1="702.7" x2="414.8" y2="707.9" stroke-width="1.4"/>
<line x1="443.5" y1="702.7" x2="443.5" y2="713.1" stroke-width="1.4"/>
<line x1="472.5" y1="702.7" x2="472.5" y2="707.9" stroke-width="1.4"/>
<line x1="500.8" y1="702.7" x2="500.8" y2="713.1" stroke-width="1.4"/>
<line x1="530.3" y1="702.7" x2="530.3" y2="707.9" stroke-width="1.4"/>
<line x1="559.2" y1="702.7" x2="559.2" y2="713.1" stroke-width="1.4"/>
<line x1="588.0" y1="702.7" x2="588.0" y2="707.9" stroke-width="1.4"/>
<line x1="616.5" y1="702.7" x2="616.5" y2="713.1" stroke-width="1.4"/>
<line x1="645.8" y1="702.7" x2="645.8" y2="707.9" stroke-width="1.4"/>
<line x1="674.5" y1="702.7" x2="674.5" y2="713.1" stroke-width="1.4"/>
<line x1="703.5" y1="702.7" x2="703.5" y2="707.9" stroke-width="1.4"/>
<line x1="732.4" y1="702.7" x2="732.4" y2="713.1" stroke-width="1.4"/>
<line x1="761.3" y1="702.7" x2="761.3" y2="707.9" stroke-width="1.4"/>
<line x1="789.7" y1="702.7" x2="789.7" y2="713.1" stroke-width="1.4"/>
<line x1="819.0" y1="702.7" x2="819.0" y2="707.9" stroke-width="1.4"/>
<line x1="847.6" y1="702.7" x2="847.6" y2="713.1" stroke-width="1.4"/>
<line x1="876.8" y1="702.7" x2="876.8" y2="707.9" stroke-width="1.4"/>
<line x1="905.5" y1="702.7" x2="905.5" y2="713.1" stroke-width="1.4"/>
<line x1="934.5" y1="702.7" x2="934.5" y2="707.9" stroke-width="1.4"/>
</g>
<g id="labels">
<text transform="translate(113.47,72.20) scale(1.1092,1)" font-size="18.30" fill="#27809d" stroke="#27809d" stroke-width="0.18">100–50–22/2</text>
<text transform="translate(97.37,112.20) scale(1.1096,1)" font-size="18.30" fill="#27809d" stroke="#27809d" stroke-width="0.18">100–44–18.5/2</text>
<text transform="translate(110.46,160.70) scale(1.1169,1)" font-size="18.30" fill="#27809d" stroke="#27809d" stroke-width="0.18">100–38–15/2</text>
<text transform="translate(241.08,72.20) scale(1.1295,1)" font-size="18.30" fill="#111" stroke="#111" stroke-width="0.37">40</text>
<text transform="translate(290.02,72.40) scale(1.0611,1)" font-size="18.30" fill="#111" stroke="#111" stroke-width="0.37">50</text>
<text transform="translate(363.54,73.20) scale(1.1572,1)" font-size="18.30" fill="#111" stroke="#111" stroke-width="0.37">60</text>
<text transform="translate(411.14,72.80) scale(1.1625,1)" font-size="18.30" fill="#111" stroke="#111" stroke-width="0.37">65</text>
<text transform="translate(478.03,75.50) scale(1.0608,1)" font-size="18.30" fill="#111" stroke="#111" stroke-width="0.37">70</text>
<text transform="translate(571.23,80.00) scale(1.0608,1)" font-size="18.30" fill="#111" stroke="#111" stroke-width="0.37">75</text>
<text transform="translate(645.08,87.60) scale(1.1197,1)" font-size="18.30" fill="#111" stroke="#111" stroke-width="0.37">78</text>
<text transform="translate(724.80,98.00) scale(1.0982,1)" font-size="18.30" fill="#111" stroke="#111" stroke-width="0.37">80</text>
<text transform="translate(762.49,103.30) scale(1.1076,1)" font-size="18.30" fill="#111" stroke="#111" stroke-width="0.37">80.3</text>
<text transform="translate(815.26,111.80) scale(1.0183,1)" font-size="18.30" fill="#111" stroke="#111" stroke-width="0.37">80</text>
<text transform="translate(865.15,126.60) scale(1.0393,1)" font-size="18.30" fill="#111" stroke="#111" stroke-width="0.37">78</text>
<text transform="translate(898.75,136.30) scale(1.0393,1)" font-size="18.30" fill="#111" stroke="#111" stroke-width="0.37">75</text>
<text transform="translate(865.15,182.30) scale(1.0393,1)" font-size="18.30" fill="#111" stroke="#111" stroke-width="0.37">70</text>
<text transform="translate(901.96,193.00) scale(1.1411,1)" font-size="18.30" fill="#111" stroke="#111" stroke-width="0.37">65</text>
<text transform="translate(691.01,137.60) scale(1.1905,1)" font-size="18.30" fill="#111" stroke="#111" stroke-width="0.37">78.1</text>
<text transform="translate(645.31,187.20) scale(1.0810,1)" font-size="18.30" fill="#111" stroke="#111" stroke-width="0.37">78.2</text>
<text transform="translate(912.06,157.30) scale(1.2410,1)" font-size="15.20" fill="#111" stroke="#111" stroke-width="0.30">η</text>
<text transform="translate(929.60,155.80) scale(1.0637,1)" font-size="17.50" fill="#111" stroke="#111" stroke-width="0.35">[%]</text>
<text transform="translate(855.17,65.60) scale(1.0264,1)" font-size="26.00" fill="#111" stroke="#111" stroke-width="0.52">LPP100</text>
<text transform="translate(855.88,87.80) scale(1.0563,1)" font-size="21.30" fill="#111" stroke="#111" stroke-width="0.43">2P</text>
<text transform="translate(896.40,87.80) scale(1.0603,1)" font-size="21.30" fill="#111" stroke="#111" stroke-width="0.43">50Hz</text>
<text transform="translate(69.93,346.90) scale(0.9614,1)" font-size="17.30" fill="#111" stroke="#111" stroke-width="0.35">0</text>
<text transform="translate(61.14,300.10) scale(0.9486,1)" font-size="17.30" fill="#111" stroke="#111" stroke-width="0.35">10</text>
<text transform="translate(60.86,253.60) scale(0.9691,1)" font-size="17.30" fill="#111" stroke="#111" stroke-width="0.35">20</text>
<text transform="translate(61.14,206.40) scale(0.9540,1)" font-size="17.30" fill="#111" stroke="#111" stroke-width="0.35">30</text>
<text transform="translate(60.99,159.80) scale(0.9569,1)" font-size="17.30" fill="#111" stroke="#111" stroke-width="0.35">40</text>
<text transform="translate(61.04,112.70) scale(0.9540,1)" font-size="17.30" fill="#111" stroke="#111" stroke-width="0.35">50</text>
<text transform="translate(61.07,65.20) scale(0.9577,1)" font-size="17.30" fill="#111" stroke="#111" stroke-width="0.35">60</text>
<text transform="translate(93.29,365.70) scale(0.8883,1)" font-size="17.30" fill="#111" stroke="#111" stroke-width="0.35">0</text>
<text transform="translate(144.70,365.70) scale(0.9130,1)" font-size="17.30" fill="#111" stroke="#111" stroke-width="0.35">10</text>
<text transform="translate(203.90,365.70) scale(0.9237,1)" font-size="17.30" fill="#111" stroke="#111" stroke-width="0.35">20</text>
<text transform="translate(264.14,365.70) scale(0.9540,1)" font-size="17.30" fill="#111" stroke="#111" stroke-width="0.35">30</text>
<text transform="translate(319.71,365.70) scale(0.9127,1)" font-size="17.30" fill="#111" stroke="#111" stroke-width="0.35">40</text>
<text transform="translate(380.06,365.70) scale(0.9260,1)" font-size="17.30" fill="#111" stroke="#111" stroke-width="0.35">50</text>
<text transform="translate(434.75,365.70) scale(0.9804,1)" font-size="17.30" fill="#111" stroke="#111" stroke-width="0.35">60</text>
<text transform="translate(490.89,365.70) scale(0.9351,1)" font-size="17.30" fill="#111" stroke="#111" stroke-width="0.35">70</text>
<text transform="translate(551.58,365.70) scale(0.9305,1)" font-size="17.30" fill="#111" stroke="#111" stroke-width="0.35">80</text>
<text transform="translate(607.28,365.70) scale(0.9249,1)" font-size="17.30" fill="#111" stroke="#111" stroke-width="0.35">90</text>
<text transform="translate(661.81,365.70) scale(0.9672,1)" font-size="17.30" fill="#111" stroke="#111" stroke-width="0.35">100</text>
<text transform="translate(722.59,365.70) scale(0.9819,1)" font-size="17.30" fill="#111" stroke="#111" stroke-width="0.35">110</text>
<text transform="translate(778.54,365.70) scale(0.9483,1)" font-size="17.30" fill="#111" stroke="#111" stroke-width="0.35">120</text>
<text transform="translate(834.19,365.70) scale(0.9181,1)" font-size="17.30" fill="#111" stroke="#111" stroke-width="0.35">130</text>
<text transform="translate(893.18,365.70) scale(0.9256,1)" font-size="17.30" fill="#111" stroke="#111" stroke-width="0.35">140</text>
<text transform="translate(45.85,39.50) scale(1.0747,1)" font-size="16.90" fill="#111" stroke="#111" stroke-width="0.34">H[m]</text>
<text transform="translate(953.20,365.80) scale(1.0295,1)" font-size="17.30" fill="#111" stroke="#111" stroke-width="0.35">Q</text>
<text transform="translate(971.04,365.20) scale(1.0227,1)" font-size="17.60" fill="#111" stroke="#111" stroke-width="0.35">[</text>
<text transform="translate(977.88,365.80) scale(1.1466,1)" font-size="19.00" fill="#111" stroke="#111" stroke-width="0.38">м³/ч</text>
<text transform="translate(1017.42,365.20) scale(1.0198,1)" font-size="17.60" fill="#111" stroke="#111" stroke-width="0.35">]</text>
<text transform="translate(966.78,181.50) scale(1.1090,1)" font-size="16.00" fill="#111" stroke="#111" stroke-width="0.32">NPSH</text>
<text transform="translate(976.84,199.10) scale(1.0584,1)" font-size="17.00" fill="#111" stroke="#111" stroke-width="0.34">[m]</text>
<text transform="translate(982.23,329.10) scale(1.0989,1)" font-size="14.00" fill="#111" stroke="#111" stroke-width="0.28">2</text>
<text transform="translate(982.65,294.60) scale(1.0000,1)" font-size="14.00" fill="#111" stroke="#111" stroke-width="0.28">4</text>
<text transform="translate(982.24,260.20) scale(1.0870,1)" font-size="14.00" fill="#111" stroke="#111" stroke-width="0.28">6</text>
<text transform="translate(982.33,225.50) scale(1.0638,1)" font-size="14.00" fill="#111" stroke="#111" stroke-width="0.28">8</text>
<text transform="translate(842.06,499.70) scale(1.1159,1)" font-size="18.30" fill="#27809d" stroke="#27809d" stroke-width="0.18">100–50–22/2</text>
<text transform="translate(818.55,546.70) scale(1.1205,1)" font-size="18.30" fill="#27809d" stroke="#27809d" stroke-width="0.18">100–44–18.5/2</text>
<text transform="translate(773.94,576.50) scale(1.1246,1)" font-size="18.30" fill="#27809d" stroke="#27809d" stroke-width="0.18">100–38–15/2</text>
<text transform="translate(69.62,675.90) scale(0.9857,1)" font-size="17.30" fill="#111" stroke="#111" stroke-width="0.35">5</text>
<text transform="translate(61.82,614.80) scale(0.9011,1)" font-size="17.30" fill="#111" stroke="#111" stroke-width="0.35">10</text>
<text transform="translate(62.51,553.20) scale(0.8478,1)" font-size="17.30" fill="#111" stroke="#111" stroke-width="0.35">15</text>
<text transform="translate(60.87,492.30) scale(0.9634,1)" font-size="17.30" fill="#111" stroke="#111" stroke-width="0.35">20</text>
<text transform="translate(60.87,431.00) scale(0.9577,1)" font-size="17.30" fill="#111" stroke="#111" stroke-width="0.35">25</text>
<text transform="translate(93.29,734.10) scale(0.8883,1)" font-size="17.30" fill="#111" stroke="#111" stroke-width="0.35">0</text>
<text transform="translate(144.70,734.10) scale(0.9130,1)" font-size="17.30" fill="#111" stroke="#111" stroke-width="0.35">10</text>
<text transform="translate(203.90,734.10) scale(0.9237,1)" font-size="17.30" fill="#111" stroke="#111" stroke-width="0.35">20</text>
<text transform="translate(264.14,734.10) scale(0.9540,1)" font-size="17.30" fill="#111" stroke="#111" stroke-width="0.35">30</text>
<text transform="translate(319.71,734.10) scale(0.9127,1)" font-size="17.30" fill="#111" stroke="#111" stroke-width="0.35">40</text>
<text transform="translate(380.06,734.10) scale(0.9260,1)" font-size="17.30" fill="#111" stroke="#111" stroke-width="0.35">50</text>
<text transform="translate(434.75,734.10) scale(0.9804,1)" font-size="17.30" fill="#111" stroke="#111" stroke-width="0.35">60</text>
<text transform="translate(490.89,734.10) scale(0.9351,1)" font-size="17.30" fill="#111" stroke="#111" stroke-width="0.35">70</text>
<text transform="translate(551.58,734.10) scale(0.9305,1)" font-size="17.30" fill="#111" stroke="#111" stroke-width="0.35">80</text>
<text transform="translate(607.28,734.10) scale(0.9249,1)" font-size="17.30" fill="#111" stroke="#111" stroke-width="0.35">90</text>
<text transform="translate(661.81,734.10) scale(0.9672,1)" font-size="17.30" fill="#111" stroke="#111" stroke-width="0.35">100</text>
<text transform="translate(722.59,734.10) scale(0.9819,1)" font-size="17.30" fill="#111" stroke="#111" stroke-width="0.35">110</text>
<text transform="translate(778.54,734.10) scale(0.9483,1)" font-size="17.30" fill="#111" stroke="#111" stroke-width="0.35">120</text>
<text transform="translate(834.19,734.10) scale(0.9181,1)" font-size="17.30" fill="#111" stroke="#111" stroke-width="0.35">130</text>
<text transform="translate(893.18,734.10) scale(0.9256,1)" font-size="17.30" fill="#111" stroke="#111" stroke-width="0.35">140</text>
<text transform="translate(26.57,400.90) scale(1.0864,1)" font-size="16.40" fill="#111" stroke="#111" stroke-width="0.33">P2[kW]</text>
<text transform="translate(953.20,733.80) scale(1.0295,1)" font-size="17.30" fill="#111" stroke="#111" stroke-width="0.35">Q</text>
<text transform="translate(971.04,733.20) scale(1.0227,1)" font-size="17.60" fill="#111" stroke="#111" stroke-width="0.35">[</text>
<text transform="translate(977.88,733.80) scale(1.1466,1)" font-size="19.00" fill="#111" stroke="#111" stroke-width="0.38">м³/ч</text>
<text transform="translate(1017.42,733.20) scale(1.0198,1)" font-size="17.60" fill="#111" stroke="#111" stroke-width="0.35">]</text>
</g>
</svg>
</body>
</html>
